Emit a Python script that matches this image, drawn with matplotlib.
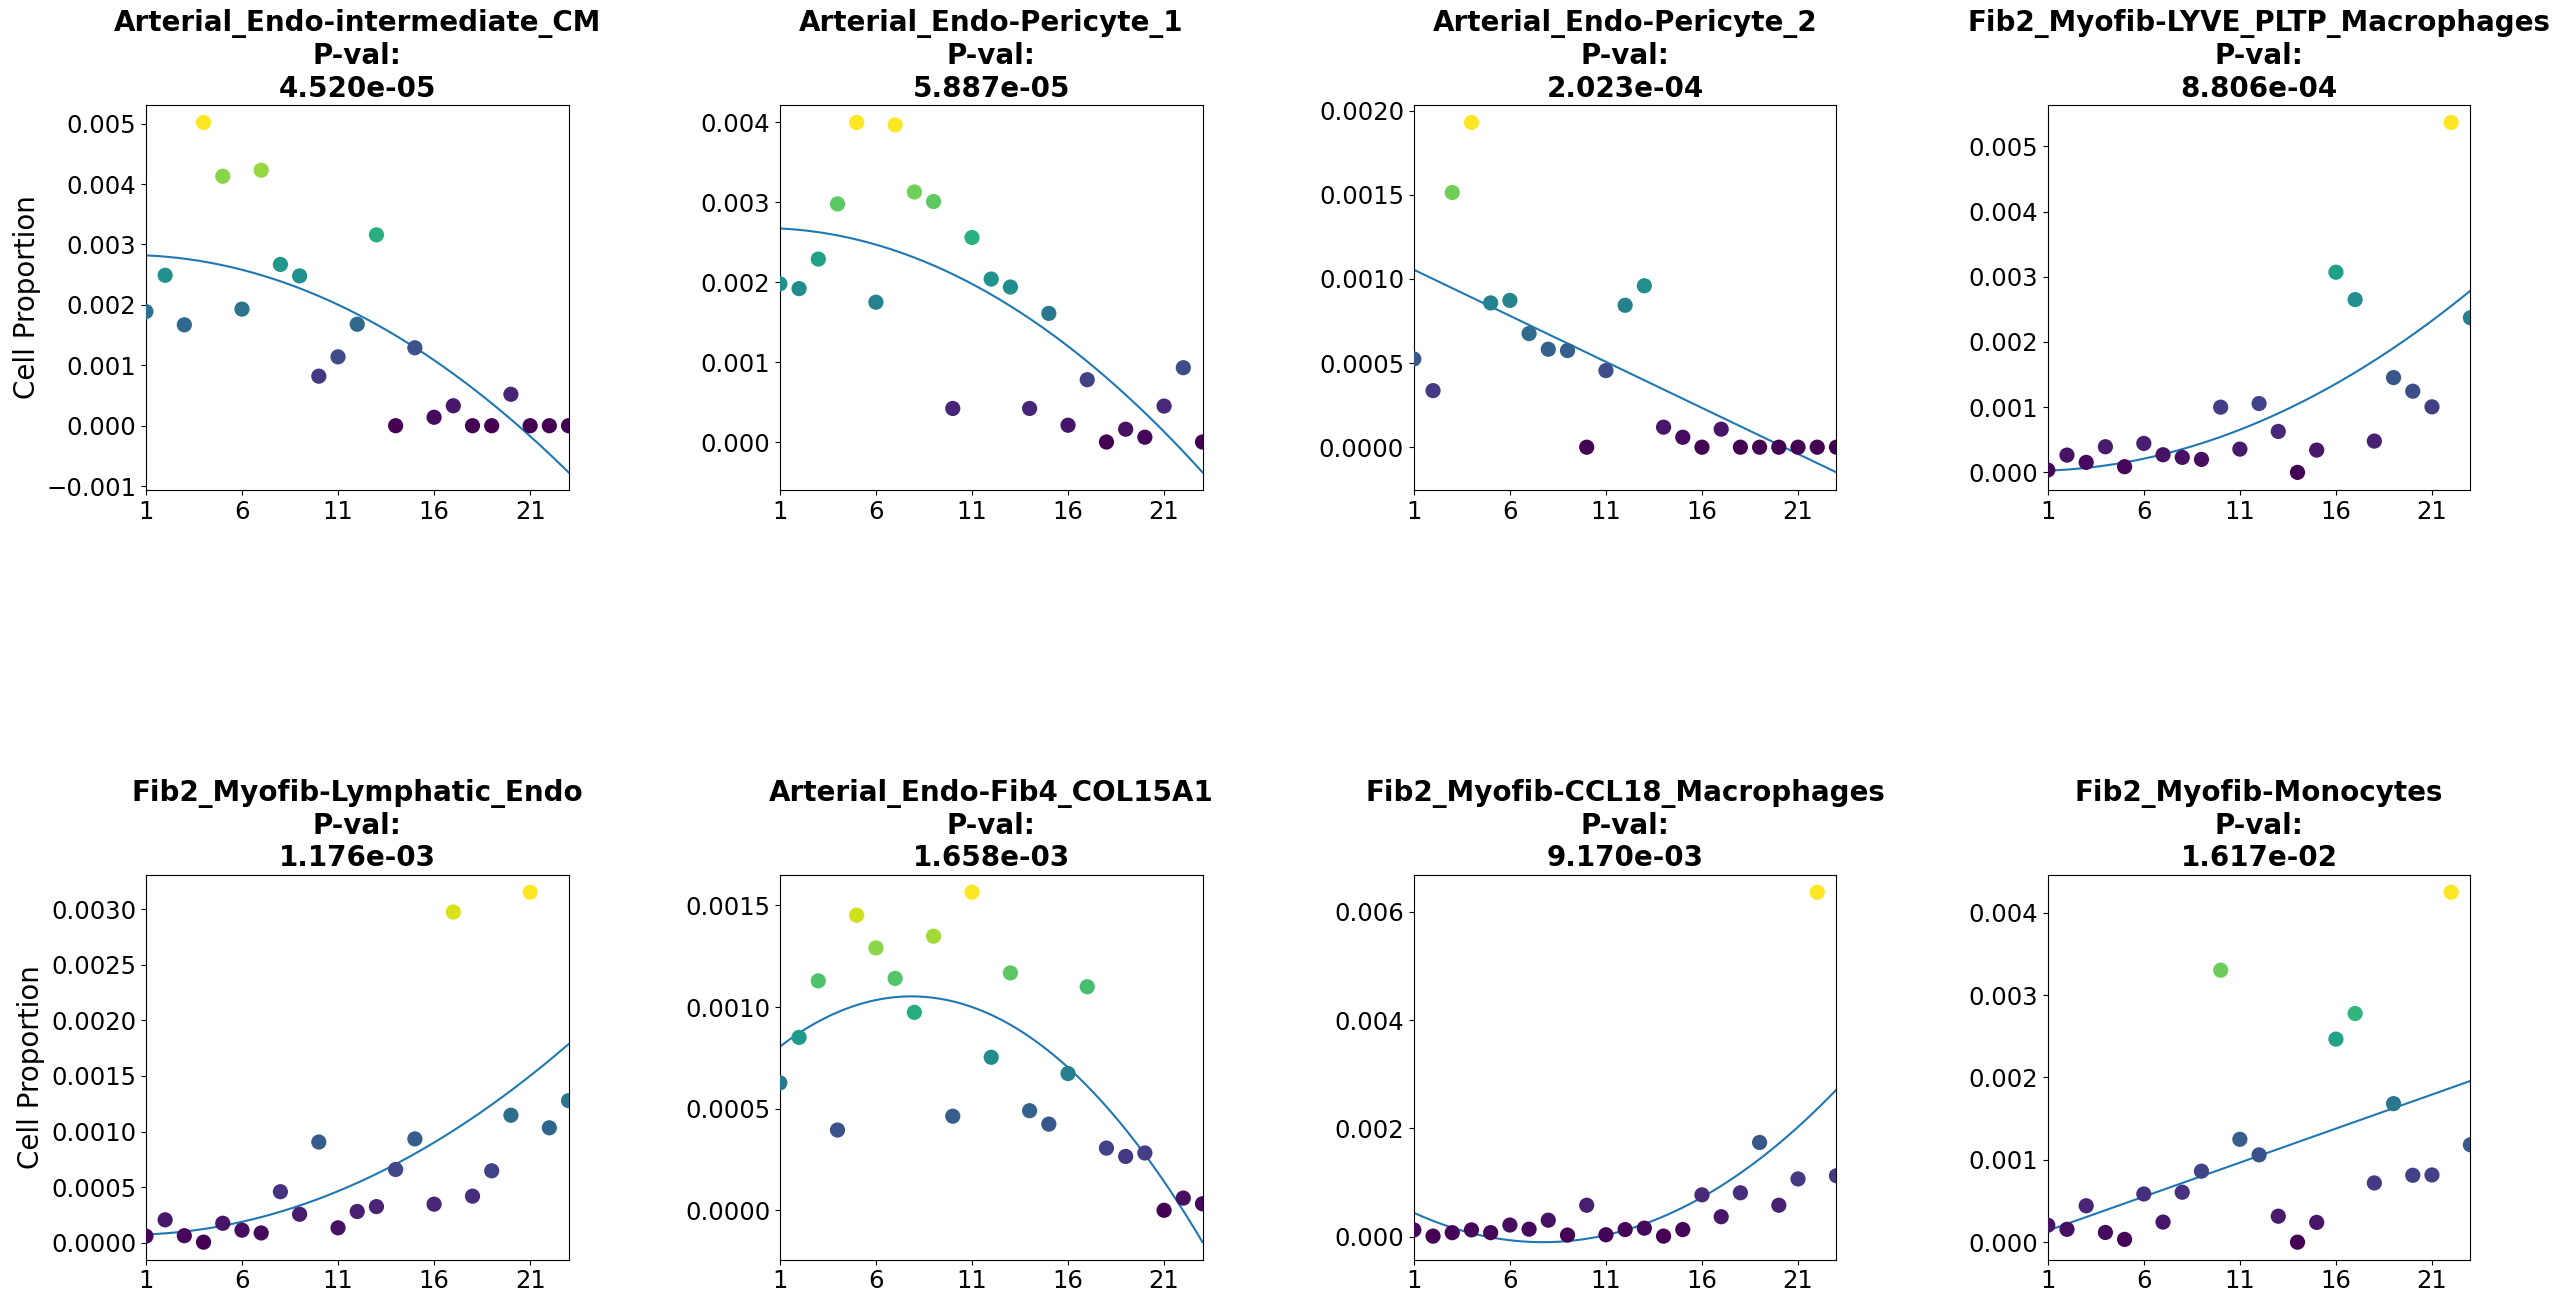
import numpy as np
import matplotlib
matplotlib.use('Agg')
import matplotlib.pyplot as plt

x = np.arange(1, 24)

names = ['Arterial_Endo-intermediate_CM', 'Arterial_Endo-Pericyte_1', 'Arterial_Endo-Pericyte_2',
         'Fib2_Myofib-LYVE_PLTP_Macrophages', 'Fib2_Myofib-Lymphatic_Endo', 'Arterial_Endo-Fib4_COL15A1',
         'Fib2_Myofib-CCL18_Macrophages', 'Fib2_Myofib-Monocytes']
pvals = [4.520e-05, 5.887e-05, 2.023e-04, 8.806e-04, 1.176e-03, 1.658e-03, 9.170e-03, 1.617e-02]
# polynomial terms of the fitted trend in each panel
terms = [[0, 2], [0, 2], [0, 1], [0, 2], [0, 2], [0, 1, 2], [0, 1, 2], [0, 1]]

# cell proportions (x1e-3) per sample 1..23
y1 = [1.89, 2.49, 1.67, 5.02, 4.13, 1.93, 4.23, 2.67, 2.48, 0.82, 1.14, 1.68, 3.16, 0.0,
      1.29, 0.14, 0.33, 0.0, 0.0, 0.52, 0.0, 0.0, 0.0]
y2 = [1.98, 1.92, 2.29, 2.98, 4.00, 1.75, 3.97, 3.13, 3.01, 0.42, 2.56, 2.04, 1.94, 0.42,
      1.61, 0.21, 0.78, 0.0, 0.16, 0.06, 0.45, 0.93, 0.0]
y3 = [0.524, 0.336, 1.513, 1.929, 0.857, 0.872, 0.675, 0.582, 0.574, 0.0, 0.455, 0.843, 0.959,
      0.119, 0.059, 0.0, 0.107, 0.0, 0.0, 0.0, 0.0, 0.0, 0.0]
y4 = [0.036, 0.265, 0.153, 0.393, 0.087, 0.444, 0.270, 0.230, 0.199, 1.00, 0.357, 1.056, 0.628,
      0.0, 0.342, 3.07, 2.65, 0.48, 1.454, 1.245, 1.005, 5.367, 2.372]
y5 = [0.059, 0.206, 0.063, 0.005, 0.175, 0.113, 0.088, 0.459, 0.256, 0.906, 0.134, 0.281, 0.325,
      0.659, 0.934, 0.347, 2.975, 0.419, 0.647, 1.147, 3.153, 1.034, 1.278]
y6 = [0.627, 0.851, 1.129, 0.395, 1.452, 1.291, 1.141, 0.974, 1.349, 0.463, 1.565, 0.753, 1.168,
      0.490, 0.424, 0.673, 1.100, 0.306, 0.265, 0.282, 0.0, 0.060, 0.032]
y7 = [0.128, 0.013, 0.077, 0.128, 0.077, 0.218, 0.141, 0.307, 0.032, 0.583, 0.038, 0.134, 0.160,
      0.013, 0.134, 0.775, 0.371, 0.813, 1.742, 0.583, 1.069, 6.36, 1.127]
y8 = [0.206, 0.156, 0.442, 0.118, 0.034, 0.585, 0.244, 0.606, 0.862, 3.302, 1.249, 1.06, 0.315,
      0.0, 0.240, 2.465, 2.776, 0.719, 1.682, 0.812, 0.816, 4.248, 1.182]
data = [y1, y2, y3, y4, y5, y6, y7, y8]

fig, axes = plt.subplots(2, 4, figsize=(25.6, 13.04), dpi=100)
fig.subplots_adjust(left=0.057, right=0.965, top=0.9195, bottom=0.034, wspace=0.5, hspace=1.0)

xs = np.linspace(1, 23, 200)
for i, ax in enumerate(axes.flat):
    y = np.array(data[i]) * 1e-3
    ax.scatter(x, y, c=y, cmap='viridis', s=120, linewidths=0, zorder=3)
    # least squares trend with the selected terms
    A = np.vstack([x.astype(float) ** p for p in terms[i]]).T
    coef = np.linalg.lstsq(A, y, rcond=None)[0]
    fit = sum(c * xs ** p for c, p in zip(coef, terms[i]))
    ax.plot(xs, fit, color='#1f77b4', lw=1.5)
    ax.set_xlim(1, 23)
    ax.set_xticks([1, 6, 11, 16, 21])
    ax.tick_params(labelsize=17.5)
    ax.set_title('%s\nP-val:\n%.3e' % (names[i], pvals[i]), fontsize=20, fontweight='bold')
    if i % 4 == 0:
        ax.set_ylabel('Cell Proportion', fontsize=20)

plt.savefig('out.png')
